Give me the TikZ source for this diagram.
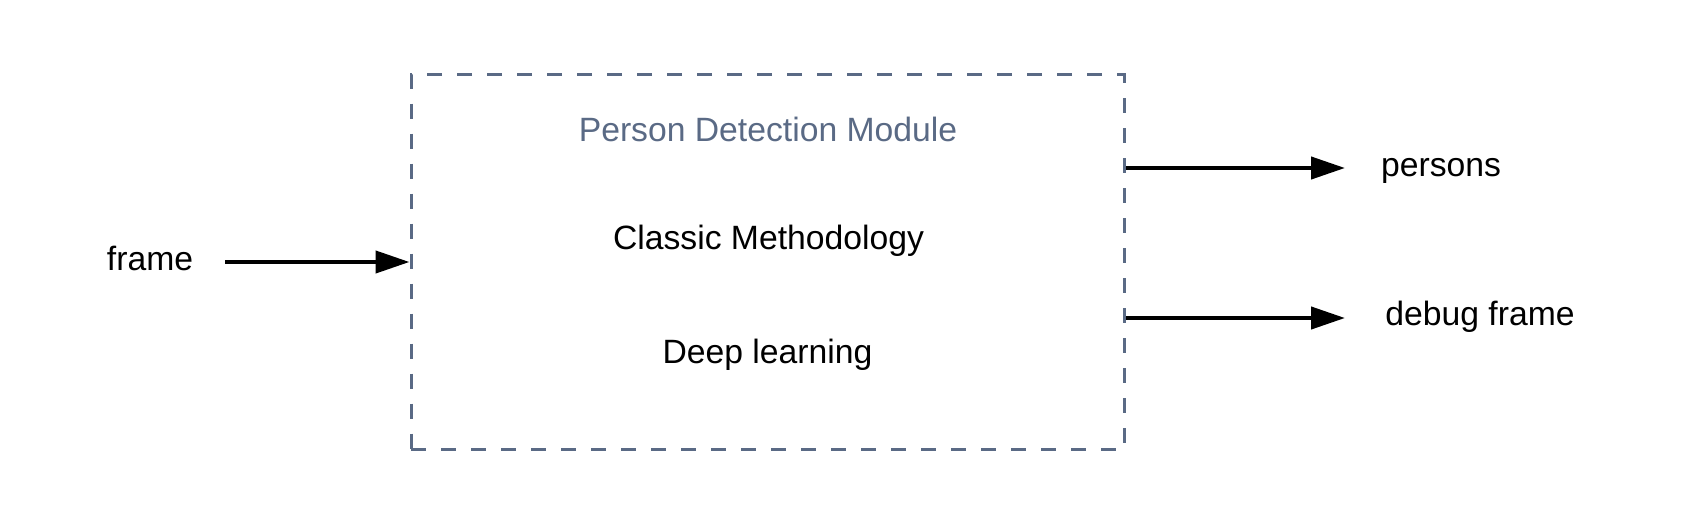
\documentclass[tikz,border=0pt]{standalone}
\usepackage{fontspec}
\setmainfont{Liberation Sans}
\usetikzlibrary{arrows.meta}
\definecolor{boxcol}{HTML}{5A6A85}
\begin{document}
\begin{tikzpicture}[x=1pt,y=-1pt,
  lbl/.style={inner sep=0pt, font=\fontsize{33.7}{40}\selectfont, text=black},
  modbox/.style={draw=boxcol, line width=3pt, dash pattern=on 15pt off 15pt, minimum width=713pt, minimum height=375pt, inner sep=0pt},
  flow/.style={line width=4.2pt, -{Triangle[length=34pt,width=22pt]}}]
\useasboundingbox (0,0) rectangle (1688,525);
\node[modbox] (box) at (767.5,262) {};
\node[lbl, text=boxcol] (title) at (768,129) {Person Detection Module};
\node[lbl] (classic) at (768.5,241) {Classic Methodology};
\node[lbl] (deep) at (767.5,355) {Deep learning};
\node[lbl] (frame) at (150,258) {frame};
\node[lbl] (persons) at (1441,171) {persons};
\node[lbl] (debug) at (1480,317) {debug frame};
\coordinate (o1) at (1126,168);
\coordinate (o2) at (1126,318);
\coordinate (t1) at (1345,168);
\coordinate (t2) at (1345,318);
\coordinate (s0) at (225,262);
\draw[flow] (s0) -- (box.west);
\draw[flow] (o1) -- (t1);
\draw[flow] (o2) -- (t2);
\end{tikzpicture}
\end{document}
